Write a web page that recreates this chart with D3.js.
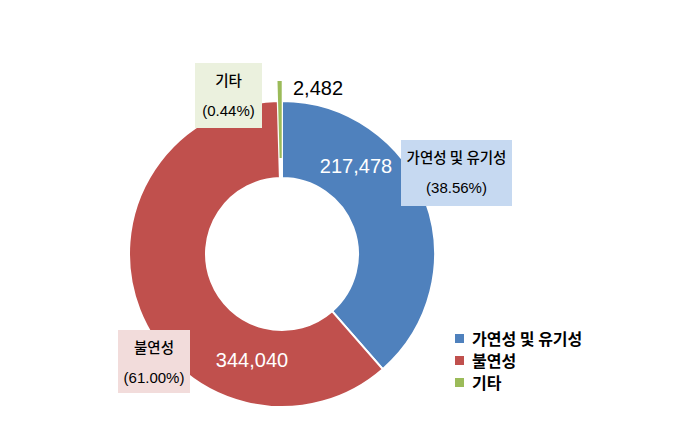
<!DOCTYPE html>
<html><head><meta charset="utf-8">
<script src="https://cdn.jsdelivr.net/npm/d3@7"></script>
<style>
html,body{margin:0;padding:0;background:#fff;}
svg{display:block;}
</style></head>
<body>
<svg id="chart" width="695" height="440"></svg>
<script>
const categories = ["가연성 및 유기성", "불연성", "기타"];
const values = [217478, 344040, 2482];
const percentLabels = ["(38.56%)", "(61.00%)", "(0.44%)"];
const colors = ["#4F81BD", "#C0504D", "#9BBB59"];
const boxColors = ["#C6D9F1", "#F2DCDB", "#EBF1DE"];

const svg = d3.select("#chart");
const cx = 282, cy = 254, outerR = 153, innerR = 76;
const font = "'Noto Sans CJK KR', 'Noto Sans', sans-serif";
const numFont = "'Liberation Sans', Arial, sans-serif";

const pie = d3.pie().sort(null).value(d => d)(values);
const arc = d3.arc().innerRadius(innerR).outerRadius(outerR);

const g = svg.append("g").attr("transform", `translate(${cx},${cy})`);
const explode = [0, 0, 20];
g.selectAll("path").data(pie).join("path")
  .attr("d", arc)
  .attr("fill", (d, i) => colors[i])
  .attr("stroke", (d, i) => i === 2 ? "none" : "#fff").attr("stroke-width", 2)
  .attr("transform", (d, i) => {
    const a = (d.startAngle + d.endAngle) / 2;
    return `translate(${Math.sin(a) * explode[i]},${-Math.cos(a) * explode[i]})`;
  });

// value labels
const fmt = d3.format(",");
const valuePos = [
  {x: 356, y: 173, anchor: "middle", fill: "#fff"},
  {x: 252, y: 367, anchor: "middle", fill: "#fff"},
  {x: 293, y: 95, anchor: "start", fill: "#000"}
];
svg.selectAll("text.val").data(values).join("text")
  .attr("class", "val")
  .attr("x", (d, i) => valuePos[i].x).attr("y", (d, i) => valuePos[i].y)
  .attr("text-anchor", (d, i) => valuePos[i].anchor)
  .attr("fill", (d, i) => valuePos[i].fill)
  .style("font-family", numFont).style("font-size", "20px")
  .text(d => fmt(d));

// category label boxes
const boxes = [
  {x: 401, y: 140, w: 111, h: 66},
  {x: 118, y: 330, w: 72, h: 63},
  {x: 195, y: 63, w: 67, h: 65}
];
categories.forEach((c, i) => {
  const b = boxes[i];
  svg.append("rect").attr("x", b.x).attr("y", b.y).attr("width", b.w).attr("height", b.h)
    .attr("fill", boxColors[i]);
  svg.append("text").attr("x", b.x + b.w / 2).attr("y", b.y + 23)
    .attr("text-anchor", "middle").style("font-family", font).style("font-size", "14.5px")
    .style("font-weight", "500").attr("fill", "#000").text(c);
  svg.append("text").attr("x", b.x + b.w / 2).attr("y", b.y + 53)
    .attr("text-anchor", "middle").style("font-family", numFont).style("font-size", "15px")
    .attr("fill", "#000").text(percentLabels[i]);
});

// legend
const legend = svg.append("g").attr("transform", "translate(455,334)");
categories.forEach((c, i) => {
  const row = legend.append("g").attr("transform", `translate(0,${i * 22})`);
  row.append("rect").attr("width", 9).attr("height", 9).attr("fill", colors[i]);
  row.append("text").attr("x", 17).attr("y", 10.5)
    .style("font-family", font).style("font-size", "16px").style("font-weight", "600")
    .attr("fill", "#000").text(c);
});
</script>
</body></html>
